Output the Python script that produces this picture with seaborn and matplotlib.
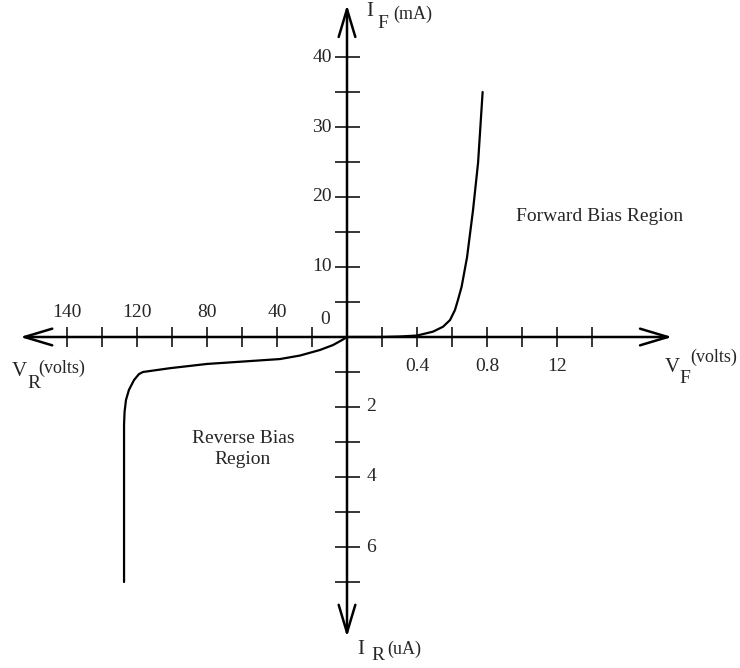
import numpy as np
import pandas as pd
import matplotlib
matplotlib.use("Agg")
import matplotlib.pyplot as plt
import seaborn as sns

# forward bias curve: volts, mA
fwd_v = [0.0, 0.2, 0.303, 0.4, 0.491, 0.549, 0.589, 0.617, 0.634, 0.655, 0.686, 0.72, 0.749, 0.775]
fwd_i = [0.0, 0.0, 0.07, 0.21, 0.76, 1.47, 2.43, 3.86, 5.29, 7.19, 11.4, 18.1, 24.9, 35.0]

# reverse bias curve: volts, uA
rev_v = [0.0, 2.8, 8.0, 15.4, 26.9, 38.3, 80.0, 101.0, 116.6, 118.9, 121.7,
         124.6, 126.3, 127.1, 127.4, 127.4]
rev_i = [0.0, 0.086, 0.23, 0.37, 0.53, 0.63, 0.77, 0.89, 1.0, 1.06, 1.23,
         1.51, 1.8, 2.14, 2.5, 7.0]

# tick labels as printed on the drawing
left_labels = ["140", "120", "80", "40"]
right_labels = ["0.4", "0.8", "12"]
up_labels = ["40", "30", "20", "10"]
down_labels = ["2", "4", "6"]

# one tick = 0.2 V / 20 V / 5 mA / 1 uA
fwd_v_step, rev_v_step = 0.2, 20
fwd_i_step, rev_i_step = 5, 1

fwd = pd.DataFrame({"x": np.array(fwd_v) / fwd_v_step, "y": np.array(fwd_i) / fwd_i_step})
rev = pd.DataFrame({"x": -np.array(rev_v) / rev_v_step, "y": -np.array(rev_i) / rev_i_step})

sns.set_style("white")
plt.rcParams["font.family"] = ["Liberation Serif", "DejaVu Serif"]

fig = plt.figure(figsize=(7.4, 6.68), dpi=100)
ax = fig.add_axes([0, 0, 1, 1])
px = 35.0
ax.set_xlim(-347 / px, (740 - 347) / px)
ax.set_ylim(-(668 - 337) / px, 337 / px)

sns.lineplot(data=fwd, x="x", y="y", sort=False, estimator=None, color="black", lw=1.6, ax=ax)
sns.lineplot(data=rev, x="x", y="y", sort=False, estimator=None, color="black", lw=1.6, ax=ax)

# axes with arrows
arrow = dict(arrowstyle="<->, head_length=1.0, head_width=0.3", color="black",
             lw=1.8, shrinkA=0, shrinkB=0, mutation_scale=20)
ax.annotate("", xy=(9.29, 0), xytext=(-9.34, 0), arrowprops=arrow)
ax.annotate("", xy=(0, 9.49), xytext=(0, -8.57), arrowprops=arrow)

# tick marks
for sp in ax.spines.values():
    sp.set_visible(False)
ax.spines["bottom"].set_position(("data", 0))
ax.spines["left"].set_position(("data", 0))
xt = [t for t in range(-8, 8) if t != 0]
yt = [t for t in range(-7, 9) if t != 0]
ax.set_xticks(xt)
ax.set_yticks(yt)
ax.set_xticklabels([])
ax.set_yticklabels([])
ax.tick_params(axis="x", direction="inout", length=14, width=1.3, bottom=True)
ax.tick_params(axis="y", direction="inout", length=18, width=1.3, left=True)
ax.set_xlabel("")
ax.set_ylabel("")

fs = 14
for lab, u in zip(left_labels, [-8, -6, -4, -2]):
    ax.text(u, 0.69, lab, ha="center", va="center", fontsize=fs)
ax.text(-0.63, 0.49, "0", ha="center", va="center", fontsize=fs)
for lab, u in zip(right_labels, [2, 4, 6]):
    ax.text(u, -0.83, lab, ha="center", va="center", fontsize=fs)
for lab, v in zip(up_labels, [8, 6, 4, 2]):
    ax.text(-0.71, v, lab, ha="center", va="center", fontsize=fs)
for lab, v in zip(down_labels, [-2, -4, -6]):
    ax.text(0.69, v, lab, ha="center", va="center", fontsize=fs)

# axis names, placed in pixel coordinates
def ptext(x, y, s, size, **kw):
    fig.text(x / 740, 1 - y / 668, s, fontsize=size, ha="left", va="center", **kw)

ptext(366, 12, "I", 15)
ptext(377, 24, "F", 14)
ptext(393, 14, "(mA)", 13)

ptext(12, 372, "V", 15)
ptext(27, 384, "R", 14)
ptext(38, 368, "(volts)", 13)

ptext(665, 367, "V", 15)
ptext(679, 379, "F", 14)
ptext(690, 357, "(volts)", 13)

ptext(357, 650, "I", 15)
ptext(371, 656, "R", 14)
ptext(387, 649, "(uA)", 13)

ax.text((600 - 347) / px, (337 - 217) / px, "Forward Bias Region", ha="center", va="center", fontsize=fs)
ax.text((243 - 347) / px, (337 - 449) / px, "Reverse Bias\nRegion", ha="center", va="center",
        fontsize=fs, linespacing=1.3)

fig.savefig("out.png", dpi=100)
